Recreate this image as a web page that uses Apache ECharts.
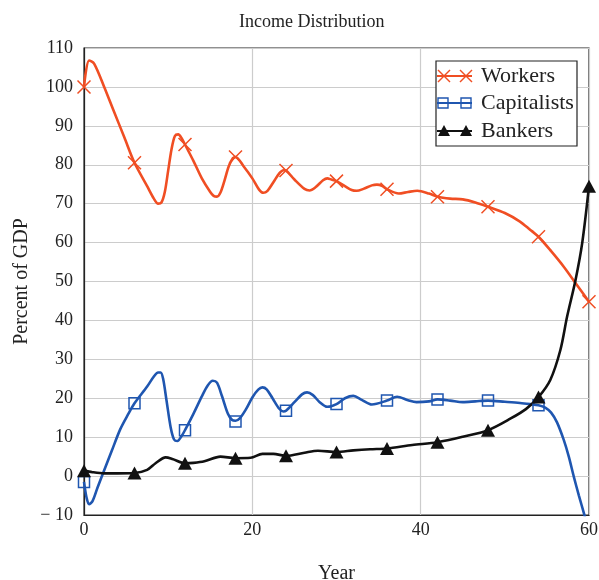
<!DOCTYPE html>
<html>
<head>
<meta charset="utf-8">
<script src="https://cdn.jsdelivr.net/npm/echarts@6/dist/echarts.min.js"></script>
<style>html,body{margin:0;padding:0;background:#fff;}#c{width:599px;height:580px;}</style>
</head>
<body>
<div id="c"></div>
<script>
const titleText = 'Income Distribution';
const xAxisName = 'Year';
const yAxisName = 'Percent of GDP';
const seriesNames = ['Workers', 'Capitalists', 'Bankers'];

const workersYears  = [0, 0.6, 1.2, 2.4, 3.5, 4.8, 6, 7.5, 8.3, 8.8, 9.2, 9.6, 10, 10.4, 10.8, 11.2, 11.6, 12, 13, 14, 15, 15.4, 15.8, 16.2, 16.7, 17.2, 17.7, 18, 19, 20, 20.8, 21.3, 21.8, 22.5, 23.2, 23.7, 24, 25, 26.2, 26.8, 27.5, 28.4, 28.9, 29.4, 30, 31, 31.8, 32.4, 33.2, 34.2, 34.8, 35.4, 36, 37.4, 38.5, 39.6, 41, 42, 43.5, 45, 46.5, 48, 50, 51.8, 53, 54, 55.5, 57, 58.5, 60];
const workersValues = [100, 106.8, 106, 100, 94, 87, 80.5, 74.5, 71.3, 70, 70.3, 73, 78.5, 84, 87.4, 87.8, 86.8, 85.2, 81, 76.5, 73, 72, 71.8, 72.8, 76, 79.6, 81.7, 82, 79.5, 76.5, 73.6, 72.8, 73.3, 75.5, 77.8, 78.6, 78.5, 76.2, 73.8, 73.4, 74.2, 76, 76.5, 76.2, 75.8, 74.5, 73.5, 73.3, 73.8, 74.7, 74.9, 74.6, 73.7, 72.6, 73, 73.3, 72.6, 71.8, 71.3, 71.1, 70.3, 69.2, 67.6, 65.4, 63.3, 61.5, 57.8, 53.8, 49.3, 44.8];

const capitalistsYears  = [0, 0.3, 0.6, 1.0, 1.6, 2.4, 3.3, 4.3, 5.2, 6, 7.5, 8.3, 8.8, 9.1, 9.4, 9.8, 10.3, 10.7, 11.1, 11.6, 12, 13, 14, 14.7, 15.3, 15.8, 16.4, 17.1, 17.6, 18, 18.5, 19.2, 20, 20.7, 21.2, 21.7, 22.4, 23.2, 23.7, 24, 25, 25.9, 26.5, 27.2, 28, 28.9, 30, 31, 32, 33, 34.2, 36, 37.2, 38.5, 39.5, 41, 42, 43.5, 45, 46.5, 48, 50, 51.8, 53, 54, 54.8, 55.5, 56.2, 57, 57.6, 58.2, 58.8, 59.4, 60];
const capitalistsValues = [-1.5, -5.5, -7.2, -6.5, -3, 1.5, 6.5, 12, 15.7, 18.7, 23, 25.6, 26.6, 26.6, 25, 19.5, 12.5, 9.4, 9, 10.3, 11.8, 16, 20.5, 23.3, 24.5, 24, 20.5, 16, 14.4, 14.2, 14.8, 17, 20.2, 22.2, 22.8, 22.3, 20, 17.3, 16.6, 16.8, 19, 21, 21.5, 20.8, 19, 17.8, 18.5, 20, 20.6, 19.6, 18.4, 19.4, 20.4, 19.5, 19, 19.2, 19.7, 19.4, 19.0, 19.2, 19.4, 19.1, 18.8, 18.5, 18.2, 17.6, 16.3, 13.8, 9.3, 5, -0.2, -5, -9.6, -14.5];

const bankersYears  = [0, 1, 2.4, 4, 6, 7.5, 8.5, 9.7, 10.5, 12, 13, 14.3, 16.2, 18, 19.8, 21.2, 22.5, 24, 26.2, 27.8, 30, 32, 34, 36, 39, 42, 45, 48, 50.7, 52.5, 54, 55.4, 56.6, 57.4, 58.4, 59.2, 60];
const bankersValues = [1.4, 1.0, 0.7, 0.7, 0.8, 1.6, 3.3, 4.8, 4.4, 3.3, 3.4, 3.8, 5.0, 4.6, 4.7, 5.7, 5.7, 5.2, 6.0, 6.5, 6.2, 6.6, 6.9, 7.1, 8.0, 8.7, 10.1, 11.8, 14.8, 17.2, 20.3, 24.7, 32.4, 41, 50.4, 60, 74.5];

const markerYears = [0, 6, 12, 18, 24, 30, 36, 42, 48, 54, 60];
const workersMarkers = [100, 80.5, 85.2, 82, 78.5, 75.8, 73.7, 71.8, 69.2, 61.5, 44.8];
const capitalistsMarkers = [-1.5, 18.7, 11.8, 14, 16.8, 18.5, 19.4, 19.7, 19.4, 18.2];
const bankersMarkers = [1.4, 0.8, 3.3, 4.6, 5.2, 6.2, 7.1, 8.7, 11.8, 20.3, 74.5];

const xTicks = [0, 20, 40, 60];
const yTicks = [-10, 0, 10, 20, 30, 40, 50, 60, 70, 80, 90, 100, 110];

const colors = ['#f04e23', '#1f56b0', '#111111'];
const FONT = '"Liberation Serif", "DejaVu Serif", serif';
const CROSS = 'path://M0,0L10,10M10,0L0,10';

function pairs(xs, ys) { return ys.map((v, i) => [xs[i], v]); }

const lineSeries = (name, xs, ys, color) => ({
  name, type: 'line', data: pairs(xs, ys), smooth: 0.3, showSymbol: false,
  lineStyle: { color, width: 2.6 }, clip: true, z: 3
});

function seg(x1, y1, x2, y2, color, w) {
  return { type: 'line', shape: { x1, y1, x2, y2 }, style: { stroke: color, lineWidth: w }, z: 101 };
}

const chart = echarts.init(document.getElementById('c'), null, { renderer: 'canvas' });
chart.setOption({
  animation: false,
  backgroundColor: '#fff',
  textStyle: { fontFamily: FONT },
  title: {
    text: titleText, left: 234, top: 8,
    textStyle: { fontFamily: FONT, fontSize: 18, fontWeight: 'normal', color: '#222' }
  },
  grid: { left: 84, right: 10, top: 48, bottom: 65, containLabel: false, outerBoundsMode: 'none',
          show: true, borderColor: '#222', borderWidth: 1.2 },
  xAxis: {
    type: 'value', min: xTicks[0], max: xTicks[xTicks.length - 1], interval: 20,
    name: xAxisName, nameLocation: 'middle', nameGap: 49, nameMoveOverlap: false,
    nameTextStyle: { fontFamily: FONT, fontSize: 20, color: '#222' },
    axisLine: { show: true, onZero: false, lineStyle: { color: '#222', width: 1.2 } },
    axisTick: { show: false },
    axisLabel: { fontFamily: FONT, fontSize: 18, color: '#222', margin: 6 },
    splitLine: { show: true, lineStyle: { color: '#cccccc', width: 1.2 } }
  },
  yAxis: {
    type: 'value', min: yTicks[0], max: yTicks[yTicks.length - 1], interval: 10,
    name: yAxisName, nameLocation: 'middle', nameGap: 52, nameRotate: 90, nameMoveOverlap: false,
    nameTextStyle: { fontFamily: FONT, fontSize: 20, color: '#222' },
    axisLine: { show: true, lineStyle: { color: '#222', width: 1.2 } },
    axisTick: { show: false },
    axisLabel: {
      fontFamily: FONT, fontSize: 18, color: '#222', margin: 11,
      formatter: v => v < 0 ? '\u2212 ' + Math.abs(v) : String(v)
    },
    splitLine: { show: true, lineStyle: { color: '#cccccc', width: 1.2 } }
  },
  series: [
    lineSeries(seriesNames[0], workersYears, workersValues, colors[0]),
    lineSeries(seriesNames[1], capitalistsYears, capitalistsValues, colors[1]),
    lineSeries(seriesNames[2], bankersYears, bankersValues, colors[2]),
    {
      name: seriesNames[0] + ' markers', type: 'scatter', data: pairs(markerYears, workersMarkers),
      symbol: CROSS, symbolSize: 13,
      itemStyle: { color: 'rgba(0,0,0,0)', borderColor: colors[0], borderWidth: 1.5, opacity: 1 }, z: 4
    },
    {
      name: seriesNames[1] + ' markers', type: 'scatter', data: pairs(markerYears, capitalistsMarkers),
      symbol: 'rect', symbolSize: 11,
      itemStyle: { color: 'rgba(0,0,0,0)', borderColor: colors[1], borderWidth: 1.5, opacity: 1 }, z: 4
    },
    {
      name: seriesNames[2] + ' markers', type: 'scatter', data: pairs(markerYears, bankersMarkers),
      symbol: 'triangle', symbolSize: [14, 13],
      itemStyle: { color: colors[2], opacity: 1 }, z: 4
    }
  ],
  graphic: [
    { type: 'rect', shape: { x: 436, y: 61, width: 141, height: 85 },
      style: { fill: '#fff', stroke: '#222', lineWidth: 1.2 }, z: 100 },
    // Workers
    seg(437, 76, 472, 76, colors[0], 2),
    seg(438, 70, 450, 82, colors[0], 1.4), seg(450, 70, 438, 82, colors[0], 1.4),
    seg(460, 70, 472, 82, colors[0], 1.4), seg(472, 70, 460, 82, colors[0], 1.4),
    { type: 'text', x: 481, y: 76, style: { text: seriesNames[0], font: '22px ' + FONT, fill: '#222', textVerticalAlign: 'middle', verticalAlign: 'middle' }, z: 101 },
    // Capitalists
    seg(437, 103, 472, 103, colors[1], 2),
    { type: 'rect', shape: { x: 438, y: 98, width: 10, height: 10 }, style: { stroke: colors[1], lineWidth: 1.4, fill: 'rgba(0,0,0,0)' }, z: 101 },
    { type: 'rect', shape: { x: 461, y: 98, width: 10, height: 10 }, style: { stroke: colors[1], lineWidth: 1.4, fill: 'rgba(0,0,0,0)' }, z: 101 },
    { type: 'text', x: 481, y: 103, style: { text: seriesNames[1], font: '22px ' + FONT, fill: '#222', textVerticalAlign: 'middle', verticalAlign: 'middle' }, z: 101 },
    // Bankers
    seg(437, 131, 472, 131, colors[2], 2),
    { type: 'polygon', shape: { points: [[438, 136], [450, 136], [444, 125]] }, style: { fill: colors[2] }, z: 101 },
    { type: 'polygon', shape: { points: [[460, 136], [472, 136], [466, 125]] }, style: { fill: colors[2] }, z: 101 },
    { type: 'text', x: 481, y: 131, style: { text: seriesNames[2], font: '22px ' + FONT, fill: '#222', textVerticalAlign: 'middle', verticalAlign: 'middle' }, z: 101 }
  ]
});
</script>
</body>
</html>
